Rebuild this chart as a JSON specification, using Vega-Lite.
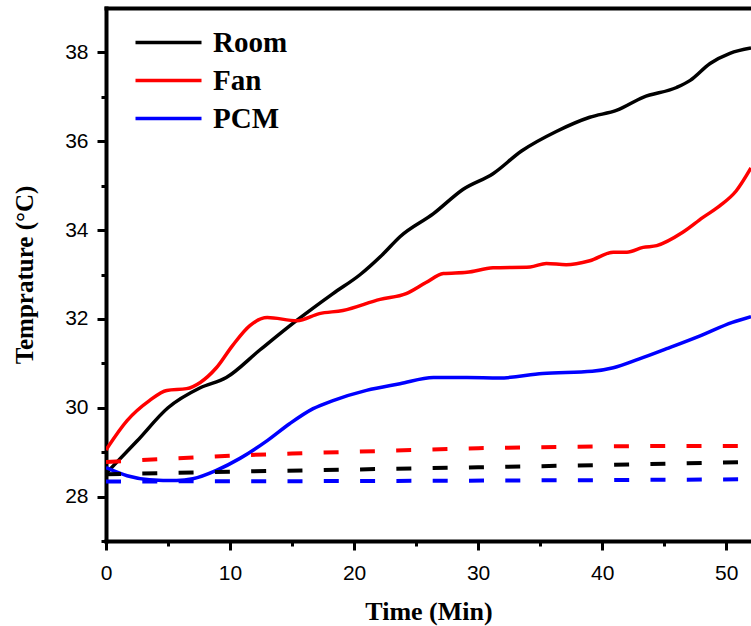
{
  "$schema": "https://vega.github.io/schema/vega-lite/v6.json",
  "width": 645,
  "height": 533,
  "autosize": {"type": "none"},
  "padding": {"left": 106, "top": 8, "right": 0, "bottom": 85},
  "background": "white",
  "config": {
    "view": {"stroke": null},
    "axis": {
      "domainColor": "black",
      "domainWidth": 4,
      "domainCap": "square",
      "tickColor": "black",
      "tickWidth": 3,
      "grid": false,
      "labelFont": "Liberation Sans",
      "labelFontSize": 21,
      "labelColor": "black",
      "labelFlush": false,
      "titleFont": "Liberation Serif",
      "titleFontWeight": "bold",
      "titleFontSize": 26,
      "titleColor": "black",
      "labelOverlap": false
    }
  },
  "data": {
    "values": [
      {"t": 0, "temp": 28.52, "case": "Room", "kind": "solid"},
      {"t": 2.5, "temp": 29.25, "case": "Room", "kind": "solid"},
      {"t": 5, "temp": 30.0, "case": "Room", "kind": "solid"},
      {"t": 7.6, "temp": 30.45, "case": "Room", "kind": "solid"},
      {"t": 9.7, "temp": 30.68, "case": "Room", "kind": "solid"},
      {"t": 12.4, "temp": 31.3, "case": "Room", "kind": "solid"},
      {"t": 15.3, "temp": 31.95, "case": "Room", "kind": "solid"},
      {"t": 18.3, "temp": 32.57, "case": "Room", "kind": "solid"},
      {"t": 20.5, "temp": 33.0, "case": "Room", "kind": "solid"},
      {"t": 22.3, "temp": 33.45, "case": "Room", "kind": "solid"},
      {"t": 23.7, "temp": 33.85, "case": "Room", "kind": "solid"},
      {"t": 26.4, "temp": 34.37, "case": "Room", "kind": "solid"},
      {"t": 28.8, "temp": 34.92, "case": "Room", "kind": "solid"},
      {"t": 31.2, "temp": 35.27, "case": "Room", "kind": "solid"},
      {"t": 33.5, "temp": 35.78, "case": "Room", "kind": "solid"},
      {"t": 36.3, "temp": 36.22, "case": "Room", "kind": "solid"},
      {"t": 39.0, "temp": 36.54, "case": "Room", "kind": "solid"},
      {"t": 41.2, "temp": 36.7, "case": "Room", "kind": "solid"},
      {"t": 43.3, "temp": 36.99, "case": "Room", "kind": "solid"},
      {"t": 46.0, "temp": 37.21, "case": "Room", "kind": "solid"},
      {"t": 47.1, "temp": 37.37, "case": "Room", "kind": "solid"},
      {"t": 48.7, "temp": 37.75, "case": "Room", "kind": "solid"},
      {"t": 50.3, "temp": 37.98, "case": "Room", "kind": "solid"},
      {"t": 52, "temp": 38.1, "case": "Room", "kind": "solid"},

      {"t": 0, "temp": 29.05, "case": "Fan", "kind": "solid"},
      {"t": 1.7, "temp": 29.71, "case": "Fan", "kind": "solid"},
      {"t": 3.5, "temp": 30.16, "case": "Fan", "kind": "solid"},
      {"t": 4.9, "temp": 30.39, "case": "Fan", "kind": "solid"},
      {"t": 6.5, "temp": 30.43, "case": "Fan", "kind": "solid"},
      {"t": 7.6, "temp": 30.57, "case": "Fan", "kind": "solid"},
      {"t": 8.9, "temp": 30.9, "case": "Fan", "kind": "solid"},
      {"t": 10.2, "temp": 31.4, "case": "Fan", "kind": "solid"},
      {"t": 11.6, "temp": 31.85, "case": "Fan", "kind": "solid"},
      {"t": 13.0, "temp": 32.03, "case": "Fan", "kind": "solid"},
      {"t": 15.4, "temp": 31.96, "case": "Fan", "kind": "solid"},
      {"t": 17.2, "temp": 32.12, "case": "Fan", "kind": "solid"},
      {"t": 19.1, "temp": 32.19, "case": "Fan", "kind": "solid"},
      {"t": 22.1, "temp": 32.44, "case": "Fan", "kind": "solid"},
      {"t": 24.2, "temp": 32.57, "case": "Fan", "kind": "solid"},
      {"t": 25.8, "temp": 32.82, "case": "Fan", "kind": "solid"},
      {"t": 27.2, "temp": 33.02, "case": "Fan", "kind": "solid"},
      {"t": 29.1, "temp": 33.05, "case": "Fan", "kind": "solid"},
      {"t": 31.2, "temp": 33.15, "case": "Fan", "kind": "solid"},
      {"t": 34.2, "temp": 33.17, "case": "Fan", "kind": "solid"},
      {"t": 35.5, "temp": 33.25, "case": "Fan", "kind": "solid"},
      {"t": 37.1, "temp": 33.22, "case": "Fan", "kind": "solid"},
      {"t": 39.0, "temp": 33.31, "case": "Fan", "kind": "solid"},
      {"t": 40.9, "temp": 33.5, "case": "Fan", "kind": "solid"},
      {"t": 42.0, "temp": 33.5, "case": "Fan", "kind": "solid"},
      {"t": 43.3, "temp": 33.61, "case": "Fan", "kind": "solid"},
      {"t": 44.4, "temp": 33.65, "case": "Fan", "kind": "solid"},
      {"t": 46.5, "temp": 33.95, "case": "Fan", "kind": "solid"},
      {"t": 48.1, "temp": 34.28, "case": "Fan", "kind": "solid"},
      {"t": 49.5, "temp": 34.55, "case": "Fan", "kind": "solid"},
      {"t": 50.8, "temp": 34.88, "case": "Fan", "kind": "solid"},
      {"t": 52, "temp": 35.4, "case": "Fan", "kind": "solid"},

      {"t": 0, "temp": 28.65, "case": "PCM", "kind": "solid"},
      {"t": 1.7, "temp": 28.47, "case": "PCM", "kind": "solid"},
      {"t": 3.5, "temp": 28.38, "case": "PCM", "kind": "solid"},
      {"t": 5.7, "temp": 28.36, "case": "PCM", "kind": "solid"},
      {"t": 7.0, "temp": 28.4, "case": "PCM", "kind": "solid"},
      {"t": 8.9, "temp": 28.59, "case": "PCM", "kind": "solid"},
      {"t": 10.8, "temp": 28.86, "case": "PCM", "kind": "solid"},
      {"t": 13.0, "temp": 29.26, "case": "PCM", "kind": "solid"},
      {"t": 14.8, "temp": 29.64, "case": "PCM", "kind": "solid"},
      {"t": 16.7, "temp": 29.98, "case": "PCM", "kind": "solid"},
      {"t": 18.3, "temp": 30.16, "case": "PCM", "kind": "solid"},
      {"t": 21.0, "temp": 30.39, "case": "PCM", "kind": "solid"},
      {"t": 23.7, "temp": 30.54, "case": "PCM", "kind": "solid"},
      {"t": 26.4, "temp": 30.68, "case": "PCM", "kind": "solid"},
      {"t": 29.1, "temp": 30.68, "case": "PCM", "kind": "solid"},
      {"t": 31.7, "temp": 30.67, "case": "PCM", "kind": "solid"},
      {"t": 35.2, "temp": 30.77, "case": "PCM", "kind": "solid"},
      {"t": 39.2, "temp": 30.82, "case": "PCM", "kind": "solid"},
      {"t": 40.9, "temp": 30.9, "case": "PCM", "kind": "solid"},
      {"t": 43.0, "temp": 31.1, "case": "PCM", "kind": "solid"},
      {"t": 45.2, "temp": 31.33, "case": "PCM", "kind": "solid"},
      {"t": 47.9, "temp": 31.62, "case": "PCM", "kind": "solid"},
      {"t": 50.5, "temp": 31.92, "case": "PCM", "kind": "solid"},
      {"t": 52, "temp": 32.05, "case": "PCM", "kind": "solid"},

      {"t": 0, "temp": 28.5, "case": "Room", "kind": "dashed"},
      {"t": 10, "temp": 28.56, "case": "Room", "kind": "dashed"},
      {"t": 20, "temp": 28.61, "case": "Room", "kind": "dashed"},
      {"t": 30, "temp": 28.66, "case": "Room", "kind": "dashed"},
      {"t": 40, "temp": 28.71, "case": "Room", "kind": "dashed"},
      {"t": 52, "temp": 28.78, "case": "Room", "kind": "dashed"},

      {"t": 0, "temp": 28.78, "case": "Fan", "kind": "dashed"},
      {"t": 5, "temp": 28.85, "case": "Fan", "kind": "dashed"},
      {"t": 10, "temp": 28.92, "case": "Fan", "kind": "dashed"},
      {"t": 15, "temp": 28.97, "case": "Fan", "kind": "dashed"},
      {"t": 20, "temp": 29.01, "case": "Fan", "kind": "dashed"},
      {"t": 25, "temp": 29.05, "case": "Fan", "kind": "dashed"},
      {"t": 30, "temp": 29.09, "case": "Fan", "kind": "dashed"},
      {"t": 35, "temp": 29.11, "case": "Fan", "kind": "dashed"},
      {"t": 40, "temp": 29.13, "case": "Fan", "kind": "dashed"},
      {"t": 45, "temp": 29.14, "case": "Fan", "kind": "dashed"},
      {"t": 52, "temp": 29.14, "case": "Fan", "kind": "dashed"},

      {"t": 0, "temp": 28.34, "case": "PCM", "kind": "dashed"},
      {"t": 20, "temp": 28.35, "case": "PCM", "kind": "dashed"},
      {"t": 40, "temp": 28.37, "case": "PCM", "kind": "dashed"},
      {"t": 52, "temp": 28.39, "case": "PCM", "kind": "dashed"}
    ]
  },
  "layer": [
    {
      "transform": [{"filter": "datum.kind === 'solid'"}],
      "mark": {"type": "line", "interpolate": "monotone", "strokeWidth": 3.5, "clip": true},
      "encoding": {
        "x": {
          "field": "t", "type": "quantitative",
          "scale": {"domain": [0, 52], "nice": false, "zero": false},
          "axis": {
            "title": "Time (Min)",
            "values": [0, 5, 10, 15, 20, 25, 30, 35, 40, 45, 50],
            "format": "d",
            "tickSize": {"condition": {"test": "datum.value % 10 === 0", "value": 9}, "value": 5},
            "labelOpacity": {"condition": {"test": "datum.value % 10 === 0", "value": 1}, "value": 0},
            "labelPadding": 12,
            "titlePadding": 15
          }
        },
        "y": {
          "field": "temp", "type": "quantitative",
          "scale": {"domain": [27, 39], "nice": false, "zero": false},
          "axis": {
            "title": "Temprature (°C)",
            "titleFontSize": 25,
            "values": [27, 28, 29, 30, 31, 32, 33, 34, 35, 36, 37, 38],
            "format": "d",
            "tickSize": {"condition": {"test": "datum.value % 2 === 0", "value": 9}, "value": 5},
            "labelOpacity": {"condition": {"test": "datum.value % 2 === 0", "value": 1}, "value": 0},
            "labelPadding": 9,
            "titlePadding": 27
          }
        },
        "color": {
          "field": "case", "type": "nominal",
          "scale": {"domain": ["Room", "Fan", "PCM"], "range": ["#000000", "#ff0000", "#0000ff"]},
          "legend": {
            "title": null,
            "orient": "none",
            "legendX": 48,
            "legendY": 20,
            "symbolType": "M-3,0H3",
            "symbolStrokeWidth": 3.5,
            "symbolSize": 484,
            "symbolFillColor": "transparent",
            "labelFont": "Liberation Serif",
            "labelFontWeight": "bold",
            "labelFontSize": 29,
            "labelColor": "black",
            "labelOffset": 30,
            "rowPadding": 8
          }
        }
      }
    },
    {
      "transform": [{"filter": "datum.kind === 'dashed'"}],
      "mark": {"type": "line", "strokeWidth": 4, "strokeDash": [15, 21.3], "clip": true},
      "encoding": {
        "x": {
          "field": "t", "type": "quantitative",
          "axis": {"orient": "top", "title": null, "labels": false, "ticks": false, "domain": true}
        },
        "y": {"field": "temp", "type": "quantitative"},
        "color": {"field": "case", "type": "nominal", "legend": null}
      }
    }
  ],
  "resolve": {"axis": {"x": "independent"}}
}
